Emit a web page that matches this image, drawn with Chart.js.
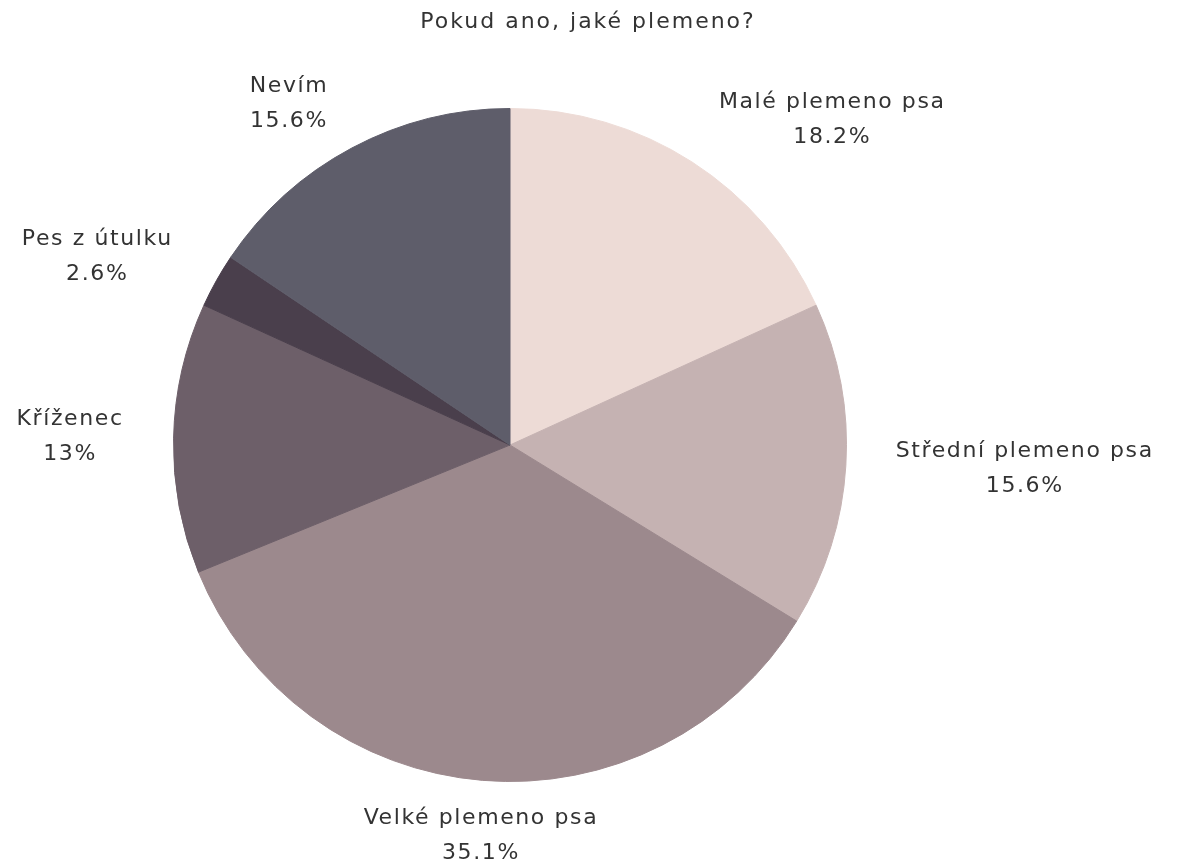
<!DOCTYPE html>
<html>
<head>
<meta charset="utf-8">
<script src="https://cdn.jsdelivr.net/npm/chart.js@4"></script>
<style>
  html, body { margin: 0; padding: 0; background: #ffffff; }
  #wrap { width: 1180px; height: 864px; }
</style>
</head>
<body>
<div id="wrap"><canvas id="breeds" width="1180" height="864"></canvas></div>
<script>
const categories = ["Malé plemeno psa", "Střední plemeno psa", "Velké plemeno psa", "Kříženec", "Pes z útulku", "Nevím"];
const shares = [18.2, 15.6, 35.1, 13, 2.6, 15.6];
const sliceColors = ["#EDDBD6", "#C5B2B2", "#9C898D", "#6D5F69", "#4A3F4C", "#5E5D6A"];
const chartTitle = "Pokud ano, jaké plemeno?";

const FONT = "'DejaVu Sans', sans-serif";
const TEXT_COLOR = "#333333";

// title + outside labels (name on first line, percentage on second)
const outsideLabels = {
    id: "outsideLabels",
    afterDatasetsDraw(chart) {
        const ctx = chart.ctx;
        const arcs = chart.getDatasetMeta(0).data;
        const lineH = 35;
        ctx.save();
        ctx.font = "22px " + FONT;
        ctx.fillStyle = TEXT_COLOR;
        ctx.textBaseline = "middle";
        ctx.textAlign = "center";
        ctx.letterSpacing = "2px";
        ctx.fillText(chartTitle, chart.chartArea.left + (chart.chartArea.right - chart.chartArea.left) / 2 + 78, 22);
        ctx.letterSpacing = "1.6px";
        arcs.forEach(function (arc, i) {
            const p = arc.getProps(["x", "y", "startAngle", "endAngle", "outerRadius"], true);
            const mid = (p.startAngle + p.endAngle) / 2;
            const c = Math.cos(mid), s = Math.sin(mid);
            const lines = [categories[i], shares[i] + "%"];
            const w = Math.max.apply(null, lines.map(t => ctx.measureText(t).width));
            const h = lineH * lines.length;
            let bx, by;
            if (Math.abs(c) > 0.2) {
                const d = p.outerRadius + 50;
                const ax = p.x + c * d, ay = p.y + s * d;
                bx = c > 0 ? ax + w / 2 : ax - w / 2;
                by = ay;
            } else {
                const d = p.outerRadius + 20;
                bx = p.x + c * d;
                const ay = p.y + s * d;
                by = s > 0 ? ay + h / 2 : ay - h / 2;
            }
            lines.forEach(function (t, k) {
                ctx.fillText(t, bx, by - h / 2 + lineH / 2 + k * lineH);
            });
        });
        ctx.restore();
    }
};

new Chart(document.getElementById("breeds").getContext("2d"), {
    type: "pie",
    data: {
        labels: categories,
        datasets: [{
            data: shares,
            backgroundColor: sliceColors,
            borderColor: sliceColors,
            borderWidth: 1
        }]
    },
    options: {
        responsive: false,
        animation: false,
        layout: {
            padding: { left: 173, right: 333, top: 108, bottom: 82 }
        },
        plugins: {
            legend: { display: false },
            tooltip: { enabled: false },
            title: { display: false }
        }
    },
    plugins: [outsideLabels]
});
</script>
</body>
</html>
